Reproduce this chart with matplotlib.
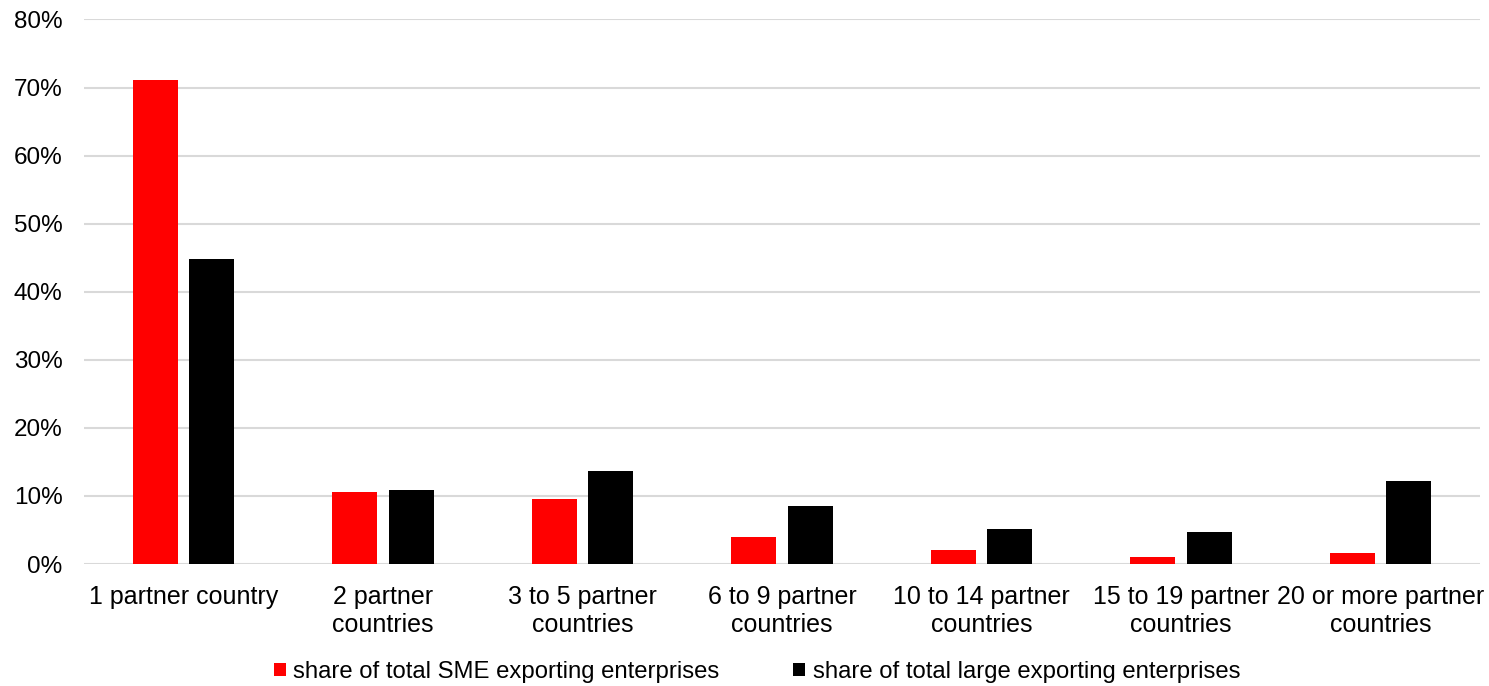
import numpy as np
import matplotlib.pyplot as plt
from matplotlib.ticker import FuncFormatter

plt.rcParams['font.family'] = ['Liberation Sans', 'DejaVu Sans']

categories = ["1 partner country", "2 partner\ncountries", "3 to 5 partner\ncountries",
              "6 to 9 partner\ncountries", "10 to 14 partner\ncountries",
              "15 to 19 partner\ncountries", "20 or more partner\ncountries"]
sme_share = [71.1, 10.6, 9.6, 3.9, 2.1, 1.1, 1.6]
large_share = [44.8, 10.9, 13.6, 8.5, 5.2, 4.7, 12.2]
series_names = ["share of total SME exporting enterprises",
                "share of total large exporting enterprises"]

fig = plt.figure(figsize=(14.89, 6.86), dpi=100)
ax = fig.add_axes([0.0564, 0.1778, 0.9376, 0.7938])

x = np.arange(len(categories))
w = 0.226
off = 0.1415
ax.bar(x - off, sme_share, width=w, color='#ff0000', label=series_names[0], zorder=3)
ax.bar(x + off, large_share, width=w, color='#000000', label=series_names[1], zorder=3)

ax.set_xlim(-0.5, len(categories) - 0.5)
ax.set_ylim(0, 80)
ax.set_yticks(np.arange(0, 81, 10))
ax.yaxis.set_major_formatter(FuncFormatter(lambda v, p: '%d%%' % v))
ax.grid(axis='y', color='#d9d9d9', linewidth=1.5, zorder=0)
for s in ax.spines.values():
    s.set_visible(False)

ax.set_xticks(x)
ax.set_xticklabels(categories, fontsize=18, linespacing=1.2, color='#000000')
ax.tick_params(axis='x', length=0, pad=15)
ax.tick_params(axis='y', length=0, pad=15.5, labelsize=17.5)

fig.legend(loc='center', bbox_to_anchor=(757 / 1489, 1 - 672 / 686), ncol=2,
           frameon=False, fontsize=17.2, handlelength=0.5, handleheight=0.5,
           handletextpad=0.3, columnspacing=3.1, borderpad=0)

fig.savefig("out.png", dpi=100)
